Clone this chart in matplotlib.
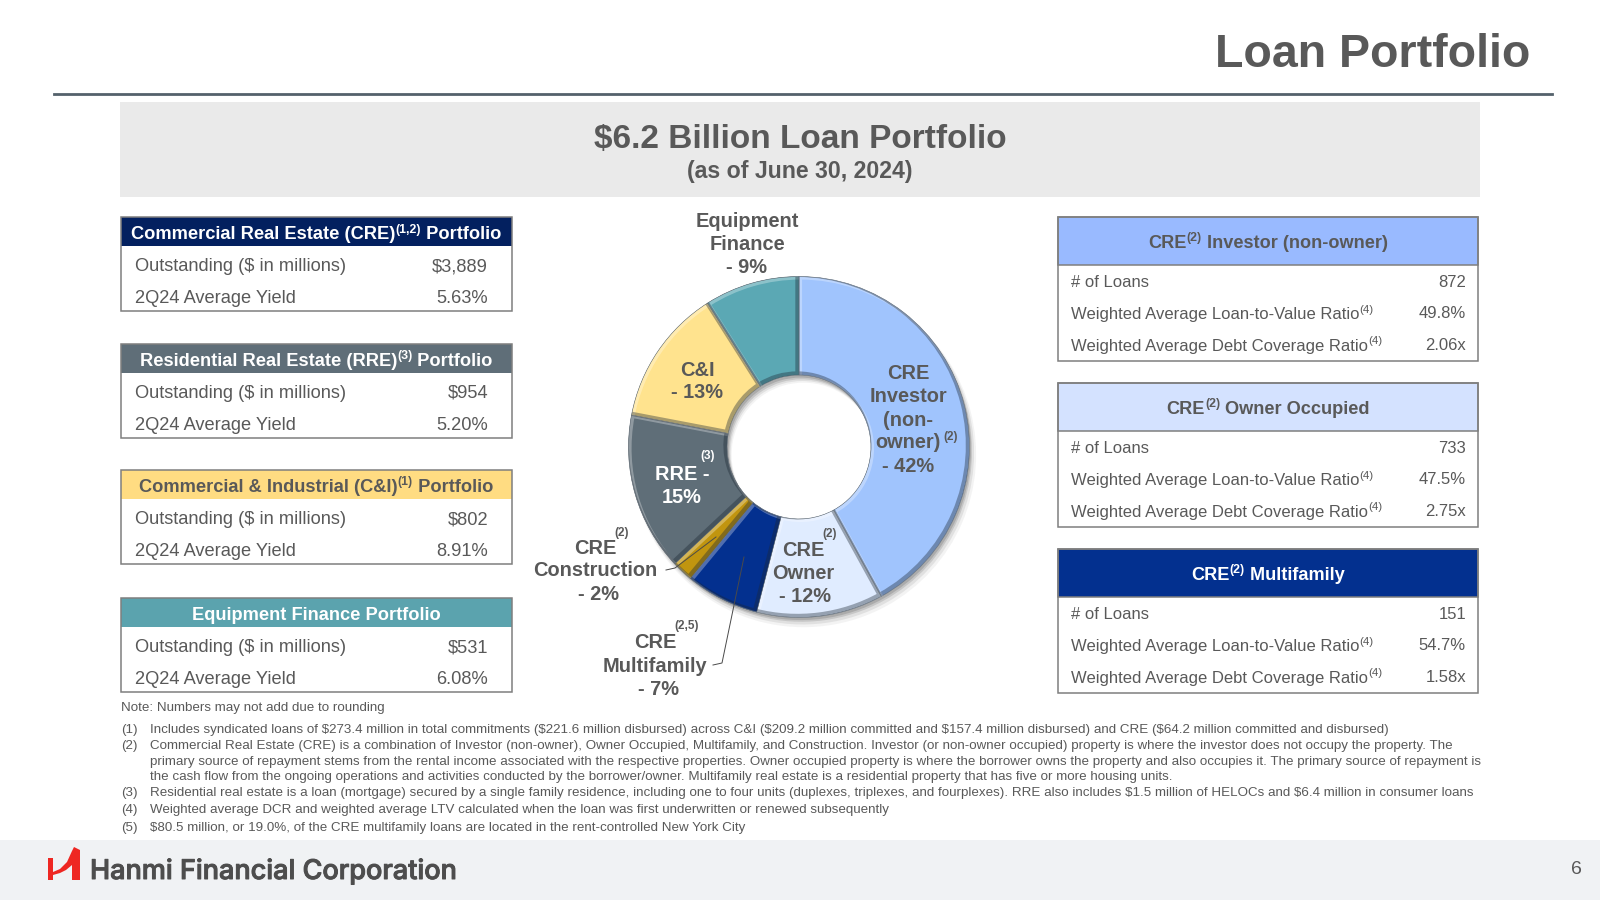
import matplotlib

matplotlib.use("Agg")
import matplotlib.patheffects as pe
import matplotlib.pyplot as plt
from matplotlib.font_manager import FontProperties
from matplotlib.patches import PathPatch, Polygon, Rectangle
from matplotlib.transforms import Affine2D

plt.rcParams["font.family"] = ["Liberation Sans", "DejaVu Sans"]
plt.rcParams["text.parse_math"] = False

W, H = 1600, 900
GREY = "#595959"
BORDER = "#7f7f7f"

# donut data
SEGMENTS = ["CRE Investor", "CRE Owner", "CRE Multifamily", "CRE Construction", "RRE", "C&I", "Equipment Finance"]
SHARES = [42, 12, 7, 2, 15, 13, 9]
SEG_COLORS = ["#a0c4fd", "#e0ecff", "#03308f", "#c1950f", "#5f6e78", "#ffe38e", "#5ba8b4"]

# left tables
LEFT_HEADERS = [
    [("Commercial Real Estate (CRE)", 0), ("(1,2)", 1), (" Portfolio", 0)],
    [("Residential Real Estate (RRE)", 0), ("(3)", 1), (" Portfolio", 0)],
    [("Commercial & Industrial (C&I)", 0), ("(1)", 1), (" Portfolio", 0)],
    [("Equipment Finance Portfolio", 0)],
]
OUTSTANDING = ["$3,889", "$954", "$802", "$531"]
YIELDS = ["5.63%", "5.20%", "8.91%", "6.08%"]
LEFT_FILLS = ["#03205f", "#5f6e78", "#ffdc82", "#5ba3ae"]
LEFT_TEXT = ["white", "white", GREY, "white"]
LEFT_TOPS = [217, 343.5, 470, 598]

# right tables
RIGHT_HEADERS = [
    [("CRE", 0), ("(2)", 1), (" Investor (non-owner)", 0)],
    [("CRE", 0), ("(2)", 1), (" Owner Occupied", 0)],
    [("CRE", 0), ("(2)", 1), (" Multifamily", 0)],
]
LOANS = ["872", "733", "151"]
LTV = ["49.8%", "47.5%", "54.7%"]
DCR = ["2.06x", "2.75x", "1.58x"]
RIGHT_FILLS = ["#99baff", "#d4e2ff", "#03308f"]
RIGHT_TEXT = [GREY, GREY, "white"]
RIGHT_TOPS = [217, 383, 549]

FOOTNOTES = [
    (729.5, "(1)", "Includes syndicated loans of $273.4 million in total commitments ($221.6 million disbursed) across C&I ($209.2 million committed and $157.4 million disbursed) and CRE ($64.2 million committed and disbursed)"),
    (746.5, "(2)", "Commercial Real Estate (CRE) is a combination of Investor (non-owner), Owner Occupied, Multifamily, and Construction. Investor (or non-owner occupied) property is where the investor does not occupy the property. The"),
    (761.5, "", "primary source of repayment stems from the rental income associated with the respective properties. Owner occupied property is where the borrower owns the property and also occupies it. The primary source of repayment is"),
    (777, "", "the cash flow from the ongoing operations and activities conducted by the borrower/owner. Multifamily real estate is a residential property that has five or more housing units."),
    (793, "(3)", "Residential real estate is a loan (mortgage) secured by a single family residence, including one to four units (duplexes, triplexes, and fourplexes). RRE also includes $1.5 million of HELOCs and $6.4 million in consumer loans"),
    (810.5, "(4)", "Weighted average DCR and weighted average LTV calculated when the loan was first underwritten or renewed subsequently"),
    (827.5, "(5)", "$80.5 million, or 19.0%, of the CRE multifamily loans are located in the rent-controlled New York City"),
]

fig = plt.figure(figsize=(16, 9), dpi=100, facecolor="white")
renderer = fig.canvas.get_renderer()

# donut axes
CX, CY, R = 799, 447, 170.5
PAD = 1.2
HOLE_WIDTH = 0.578
pie_ax = fig.add_axes([(CX - R * PAD) / W, 1 - (CY + R * PAD) / H, 2 * R * PAD / W, 2 * R * PAD / H])

# soft shadow, lower right
for off, extra, alpha in [(0.045, 0.012, 0.06), (0.035, 0.006, 0.10), (0.025, 0.0, 0.16), (0.015, 0.0, 0.2)]:
    pie_ax.pie(
        SHARES, startangle=90, counterclock=False, radius=1 + extra, center=(off * 0.6, -off),
        colors=["#404040"] * len(SHARES), frame=True,
        wedgeprops=dict(width=HOLE_WIDTH + extra, alpha=alpha, linewidth=0),
    )

wedges, _ = pie_ax.pie(
    SHARES, startangle=90, counterclock=False, radius=1, colors=SEG_COLORS, frame=True,
    wedgeprops=dict(width=HOLE_WIDTH, edgecolor="#5a6670", linewidth=0.4),
)
pie_ax.set_xlim(-PAD, PAD)
pie_ax.set_ylim(-PAD, PAD)
pie_ax.set_aspect("equal")
pie_ax.axis("off")

# bevel: offset strokes clipped to each wedge
for w in wedges:
    for color, lw, alpha, dx, dy in [
        ("white", 2.4, 0.3, 1.4, -1.4),
        ("#1c2733", 3.0, 0.38, -1.6, 1.6),
    ]:
        stroke = PathPatch(
            w.get_path(), fill=False, edgecolor=color, linewidth=lw, alpha=alpha,
            transform=w.get_transform() + Affine2D().translate(dx, dy),
        )
        pie_ax.add_patch(stroke)
        stroke.set_clip_path(w)

# page overlay in pixel coordinates
ax = fig.add_axes([0, 0, 1, 1], facecolor="none")
ax.set_xlim(0, W)
ax.set_ylim(H, 0)
ax.axis("off")


def run_width(s, size, weight):
    fp = FontProperties(family="Liberation Sans", size=size, weight=weight)
    w1 = renderer.get_text_width_height_descent("x" + s + "x", fp, False)[0]
    w2 = renderer.get_text_width_height_descent("xx", fp, False)[0]
    return w1 - w2


def rich(x, y, runs, size, color, weight="bold", ha="center"):
    # y is the vertical middle of the line, runs are (text, is_superscript)
    sizes = [size * 0.68 if sup else size for _, sup in runs]
    widths = [run_width(s, z, weight) for (s, _), z in zip(runs, sizes)]
    left = x - sum(widths) / 2 if ha == "center" else x
    base = y + size * 100 / 72 * 0.36
    for (s, sup), z, wd in zip(runs, sizes, widths):
        yy = base - (size * 100 / 72 * 0.36 if sup else 0)
        ax.text(left, yy, s, fontsize=z, color=color, fontweight=weight, ha="left", va="baseline")
        left += wd


def box(x0, y0, x1, y1, fill="none", edge="none", lw=0.0):
    ax.add_patch(Rectangle((x0, y0), x1 - x0, y1 - y0, facecolor=fill, edgecolor=edge, linewidth=lw))


# header and footer
ax.text(1530, 55, "Loan Portfolio", fontsize=33.5, fontweight="bold", color=GREY, ha="right", va="center")
ax.plot([54, 1552], [94, 94], color="#54616b", lw=2)
box(120, 102, 1480, 197, fill="#eaeaea")
ax.text(800, 139.5, "$6.2 Billion Loan Portfolio", fontsize=24, fontweight="bold", color=GREY, ha="center", va="center")
ax.text(800, 171.5, "(as of June 30, 2024)", fontsize=16.7, fontweight="bold", color=GREY, ha="center", va="center")
box(0, 840, W, H, fill="#f0f2f4")

# left tables
for i, top in enumerate(LEFT_TOPS):
    box(121, top, 512, top + 29, fill=LEFT_FILLS[i])
    box(121, top, 512, top + 94, edge=BORDER, lw=1.1)
    rich(316, top + 15.5, LEFT_HEADERS[i], 13.15, LEFT_TEXT[i])
    ax.text(135, top + 49.5, "Outstanding ($ in millions)", fontsize=13.15, color=GREY, va="center")
    ax.text(135, top + 81.5, "2Q24 Average Yield", fontsize=13.15, color=GREY, va="center")
    ax.text(488, top + 49.5, OUTSTANDING[i], fontsize=13.15, color=GREY, ha="right", va="center")
    ax.text(488, top + 81.5, YIELDS[i], fontsize=13.15, color=GREY, ha="right", va="center")

# right tables
for i, top in enumerate(RIGHT_TOPS):
    box(1058, top, 1478, top + 48, fill=RIGHT_FILLS[i], edge=BORDER, lw=1.1)
    box(1058, top, 1478, top + 143.5, edge=BORDER, lw=1.1)
    rich(1268, top + 24, RIGHT_HEADERS[i], 13.1, RIGHT_TEXT[i])
    ax.text(1071, top + 65.5, "# of Loans", fontsize=12, color=GREY, va="center")
    rich(1071, top + 96, [("Weighted Average Loan-to-Value Ratio", 0), ("(4)", 1)], 12, GREY, weight="normal", ha="left")
    rich(1071, top + 127.5, [("Weighted Average Debt Coverage Ratio", 0), ("(4)", 1)], 12, GREY, weight="normal", ha="left")
    ax.text(1466, top + 65.5, LOANS[i], fontsize=12, color=GREY, ha="right", va="center")
    ax.text(1466, top + 96.5, LTV[i], fontsize=12, color=GREY, ha="right", va="center")
    ax.text(1466, top + 128.5, DCR[i], fontsize=12, color=GREY, ha="right", va="center")

# donut labels
LABEL_SIZE = 14.4
for x, y, txt, col in [
    (747, 221.5, "Equipment", GREY), (747, 245, "Finance", GREY), (747, 267.5, "- 9%", GREY),
    (908, 373.5, "CRE", GREY), (908, 397, "Investor", GREY), (908, 420, "(non-", GREY),
    (908, 443, "owner)", GREY), (908, 466, "- 42%", GREY),
    (697, 370.5, "C&I", GREY), (697, 393, "- 13%", GREY),
    (682, 474, "RRE -", "white"), (682, 497.5, "15%", "white"),
    (803, 551, "CRE", GREY), (803, 573.5, "Owner", GREY), (805, 596.5, "- 12%", GREY),
    (595, 549, "CRE", GREY), (595, 571, "Construction", GREY), (598, 594.5, "- 2%", GREY),
    (655, 643, "CRE", GREY), (655, 666.5, "Multifamily", GREY), (658, 689.5, "- 7%", GREY),
]:
    ax.text(x, y, txt, fontsize=LABEL_SIZE, fontweight="bold", color=col, ha="center", va="center")
for x, y, txt, col in [
    (951, 437, "(2)", GREY), (708, 455.5, "(3)", "white"), (830, 534.5, "(2)", GREY),
    (622, 533, "(2)", GREY), (687, 625.5, "(2,5)", GREY),
]:
    ax.text(x, y, txt, fontsize=8.5, fontweight="bold", color=col, ha="center", va="center")

# leader lines
ax.plot([666, 675, 716], [570, 568, 537], color="#4a4a4a", lw=0.7)
ax.plot([713, 722, 744], [665, 663, 557], color="#4a4a4a", lw=0.7)

# footnotes
ax.text(121, 708.5, "Note: Numbers may not add due to rounding", fontsize=9.66, color=GREY, va="center")
for y, tag, line in FOOTNOTES:
    if tag:
        ax.text(121, y, tag, fontsize=9.66, color=GREY, va="center")
    ax.text(150.5, y, line, fontsize=9.66, color=GREY, va="center")

# logo
ax.add_patch(Polygon(
    [(48, 858), (53, 858), (53, 872), (60, 869), (67, 862), (72, 851), (74, 847), (80, 850),
     (80, 880), (72, 880), (72, 865), (66, 870), (60, 873), (53, 875), (53, 880), (48, 880)],
    closed=True, facecolor="#ee2722", edgecolor="none",
))
logo = ax.text(90, 872, "Hanmi Financial Corporation", fontsize=19.5, family="Inter", color="#4d4d4d",
               fontweight="medium", ha="left", va="center")
logo.set_path_effects([pe.withStroke(linewidth=0.7, foreground="#4d4d4d")])
ax.text(1576, 869, "6", fontsize=14, color=GREY, ha="center", va="center")

fig.savefig("out.png", dpi=100)
